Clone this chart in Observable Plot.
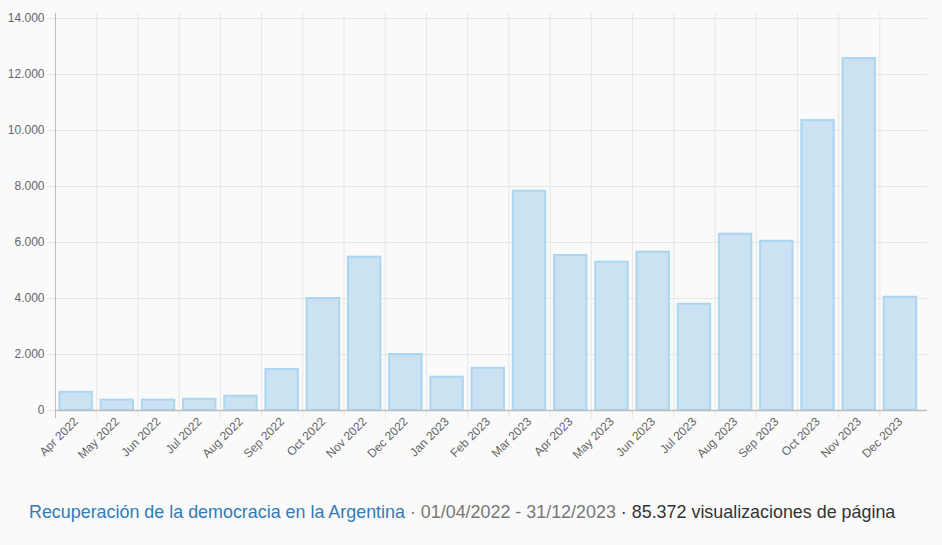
<!DOCTYPE html>
<html>
<head>
<meta charset="utf-8">
<script src="https://cdn.jsdelivr.net/npm/d3@7"></script>
<script src="https://cdn.jsdelivr.net/npm/@observablehq/plot@0.6"></script>
<style>
  html, body { margin: 0; padding: 0; background: #fafafa; }
  body { width: 942px; height: 545px; overflow: hidden; font-family: "Liberation Sans", Arial, sans-serif; }
  #chart svg { display: block; }
  #caption { position: absolute; left: 29px; top: 502px; font-size: 17.9px; line-height: 21px; white-space: nowrap; }
  #caption .t { color: #337ab7; }
  #caption .d { color: #777; }
  #caption .v { color: #333; }
</style>
</head>
<body>
<div id="chart"></div>
<div id="caption"><span class="t">Recuperación de la democracia en la Argentina</span><span class="d"> · 01/04/2022 - 31/12/2023</span><span class="v"> · 85.372 visualizaciones de página</span></div>
<script>
const months = ["Apr 2022","May 2022","Jun 2022","Jul 2022","Aug 2022","Sep 2022","Oct 2022","Nov 2022","Dec 2022",
  "Jan 2023","Feb 2023","Mar 2023","Apr 2023","May 2023","Jun 2023","Jul 2023","Aug 2023","Sep 2023","Oct 2023","Nov 2023","Dec 2023"];
const views = [650, 370, 370, 400, 510, 1465, 4000, 5475, 2000, 1190, 1510, 7830, 5535, 5295, 5655, 3795, 6295, 6045, 10355, 12570, 4045];
const yTicks = [0, 2000, 4000, 6000, 8000, 10000, 12000, 14000];

const data = months.map((m, i) => ({month: m, value: views[i]}));
const fmt = d3.formatLocale({decimal: ",", thousands: ".", grouping: [3], currency: ["", ""]}).format(",");

const W = 942, H = 480, mL = 55, mR = 15, mT = 18, mB = 70;
const xRange = [mL, 920.6];
const step = (xRange[1] - xRange[0]) / months.length;

const chart = Plot.plot({
  width: W, height: H,
  marginLeft: mL, marginRight: mR, marginTop: mT, marginBottom: mB,
  style: {background: "transparent", fontFamily: "'Liberation Sans', Arial, sans-serif", fontSize: "12px", color: "#666"},
  x: {domain: months, range: xRange, padding: 0, round: false},
  y: {domain: [0, 14000]},
  marks: [
    Plot.ruleY(yTicks, {stroke: "#e6e6e6", strokeWidth: 1, insetLeft: -8}),
    Plot.ruleX(months.slice(1), {x: d => d, dx: -step / 2, stroke: "#e6e6e6", strokeWidth: 1, insetTop: -5, insetBottom: -8}),
    Plot.barY(data, {x: "month", y: "value", fill: "#cae2f2", stroke: "#acd5ef", strokeWidth: 2, insetLeft: 4.4, insetRight: 4.4}),
    Plot.ruleX(months.slice(0, 1), {x: d => d, dx: -step / 2, stroke: "#bdbdbd", strokeWidth: 1, insetTop: -5, insetBottom: -8}),
    Plot.ruleY([0], {stroke: "#bdbdbd", strokeWidth: 1.5}),
    Plot.axisY({ticks: yTicks, tickFormat: fmt, tickSize: 0, tickPadding: 11, fill: "#666", label: null}),
    Plot.axisX({tickRotate: -45, tickSize: 0, tickPadding: 9, fill: "#666", label: null})
  ]
});
document.getElementById("chart").appendChild(chart);
</script>
</body>
</html>
